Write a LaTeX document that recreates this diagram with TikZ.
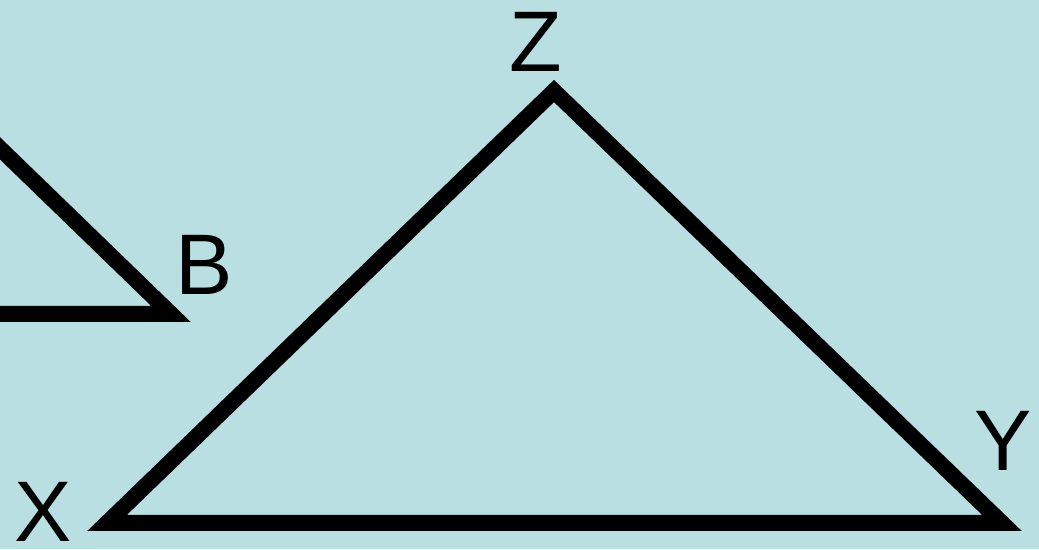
\documentclass[tikz,border=0pt]{standalone}
\usepackage{fontspec}
\setmainfont{Liberation Sans}
\definecolor{bgc}{HTML}{B9DFE3}
\begin{document}
\begin{tikzpicture}[x=1pt,y=1pt,
  edge/.style={line width=16pt,line join=miter,miter limit=10},
  lbl/.style={font=\fontsize{86}{86}\selectfont,inner sep=0pt,anchor=base west}]
\fill[bgc] (0,0) rectangle (1039,549);
\useasboundingbox (0,0) rectangle (1039,549);
\clip (0,0) rectangle (1039,549);
\coordinate (X) at (107,26);
\coordinate (Z) at (554,458);
\coordinate (Y) at (1002,26);
\coordinate (B) at (171,235);
\coordinate (Bl) at (-20,235);
\coordinate (Bt) at (-20,420);
\draw[edge] (X) -- (Z) -- (Y) -- cycle;
\draw[edge] (Bt) -- (B) -- (Bl);
\node[lbl] (lz) at (509,477) {Z};
\node[lbl] (lx) at (14,8) {X};
\node[lbl] (ly) at (974,78) {Y};
\node[lbl] (lb) at (175,254) {B};
\end{tikzpicture}
\end{document}
